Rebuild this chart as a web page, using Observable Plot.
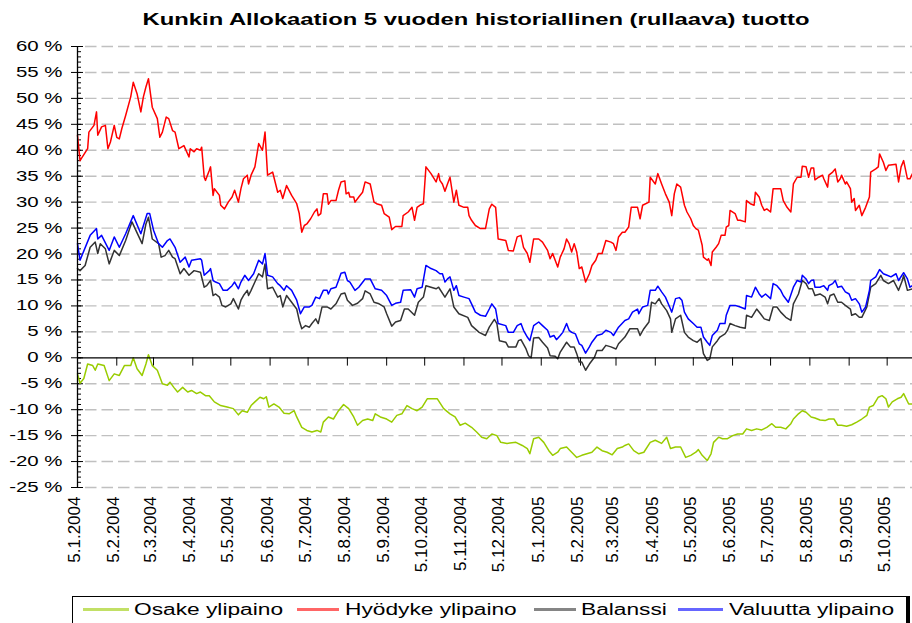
<!DOCTYPE html>
<html>
<head>
<meta charset="utf-8">
<script src="https://cdn.jsdelivr.net/npm/d3@7"></script>
<script src="https://cdn.jsdelivr.net/npm/@observablehq/plot@0.6"></script>
<style>
html,body{margin:0;padding:0;background:#fff;}
#wrap{position:relative;width:912px;height:623px;overflow:hidden;font-family:"Liberation Sans",Arial,sans-serif;color:#000;}
#title{position:absolute;left:475.5px;top:10px;white-space:nowrap;font-weight:bold;font-size:17px;transform:translateX(-50%) scaleX(1.40);}
#chart{position:absolute;left:0;top:32px;}
#legend{position:absolute;left:72px;top:596px;width:838px;height:32px;border:1px solid #000;border-right:4px solid #000;box-sizing:border-box;}
.sw{position:absolute;top:11px;height:3px;opacity:0.6;}
.lt{position:absolute;top:4px;font-size:16px;white-space:nowrap;transform-origin:left center;transform:scaleX(1.42);}
</style>
</head>
<body>
<div id="wrap">
  <div id="title"></div>
  <div id="chart"></div>
  <div id="legend"></div>
</div>
<script>
const titleText = "Kunkin Allokaation 5 vuoden historiallinen (rullaava) tuotto";
const startDate = "2004-01-05";   // day 0 of the day offsets below
const endDate = "2005-10-25";     // end of the axis
const seriesNames = ["Osake ylipaino", "Hyödyke ylipaino", "Balanssi", "Valuutta ylipaino"];
const seriesColors = ["#99cc00", "#ff0000", "#333333", "#0000ff"];

// readings: day offset from startDate, and value in %
const osakeDay = [0,2,5,8,12,14,16,21,25,29,33,37,42,44,47,51,54,56,59,63,67,71,73,76,79,83,87,90,94,97,101,104,108,113,118,123,127,130,134,137,140,144,147,149,151,155,159,163,167,171,173,177,181,185,189,192,194,198,202,206,210,214,218,221,225,229,233,235,239,244,248,252,256,260,264,268,272,276,280,284,289,294,298,302,
  306,311,315,319,323,327,331,334,339,346,351,355,357,360,364,368,372,375,379,381,
  386,390,394,398,402,406,410,414,418,422,426,430,432,435,439,443,447,452,456,461,465,468,472,476,
  480,484,488,490,493,497,500,502,506,509,513,517,521,525,528,532,536,540,544,548,551,555,559,563,565,569,
  572,575,579,582,586,590,593,597,600,603,607,611,615,619,623,625,628,632,635,638,640,643,647,650,652,656,659];
const osakeValue = [-3.1,-4.9,-4.0,-1.2,-1.5,-2.4,-1.2,-1.5,-4.4,-3.1,-3.4,-1.5,-1.5,0.0,-2.1,-3.4,-1.2,0.6,-1.5,-2.4,-5.0,-5.3,-4.7,-5.7,-6.6,-5.7,-6.6,-6.3,-6.9,-6.6,-7.3,-7.3,-8.5,-9.2,-9.5,-9.8,-11.0,-10.2,-10.5,-9.2,-8.5,-7.6,-7.9,-7.5,-9.5,-8.9,-9.5,-10.7,-10.8,-10.2,-11.4,-13.4,-14.0,-14.3,-14.0,-14.3,-12.4,-11.4,-11.8,-10.2,-9.0,-9.8,-11.4,-13.0,-12.1,-11.8,-12.1,-10.8,-11.4,-11.8,-12.4,-11.1,-10.8,-9.2,-9.8,-10.2,-9.5,-7.9,-7.9,-7.9,-9.8,-10.8,-11.4,-13.0,
  -12.6,-13.4,-14.3,-15.3,-15.6,-14.7,-15.0,-16.3,-16.5,-16.3,-16.9,-17.5,-18.5,-15.6,-15.3,-16.3,-17.9,-18.8,-18.2,-17.5,
  -17.2,-18.2,-19.2,-18.8,-18.5,-18.2,-17.2,-17.9,-18.2,-18.7,-17.5,-17.2,-16.9,-16.6,-17.9,-18.5,-18.2,-16.3,-15.9,-16.5,-15.3,-17.5,-17.2,-17.2,
  -19.2,-18.8,-18.2,-17.7,-18.8,-19.8,-18.5,-16.3,-15.3,-15.6,-15.6,-15.0,-14.7,-14.7,-13.7,-14.0,-13.7,-13.9,-13.4,-12.7,-13.4,-13.4,-13.7,-12.7,-11.8,-10.8,
  -10.2,-10.5,-11.4,-11.6,-12.0,-12.1,-11.8,-11.8,-13.0,-13.0,-13.2,-12.9,-12.4,-11.8,-11.1,-9.5,-9.2,-7.6,-7.3,-7.9,-9.5,-8.5,-7.9,-7.6,-6.9,-8.9,-8.9];

const hyodykeDay = [0,2,8,9,13,15,16,19,22,24,26,29,31,33,35,38,42,44,47,50,52,54,56,59,63,65,67,70,72,75,77,80,84,88,89,92,94,97,
  98,100,101,104,105,107,108,112,113,116,119,122,124,127,129,131,134,135,137,140,143,146,148,150,154,158,160,162,165,169,173,175,177,179,181,184,187,189,190,
  192,194,197,198,200,204,206,208,211,212,214,215,218,219,222,225,227,231,234,236,240,242,246,248,251,256,257,261,264,266,268,271,273,275,279,283,285,286,
  288,290,292,294,297,299,301,305,308,309,311,314,318,322,325,327,330,332,338,340,344,347,350,352,355,357,360,364,367,371,373,375,377,379,381,
  384,386,388,390,392,394,396,398,401,404,406,409,411,414,417,421,423,425,427,430,432,435,437,442,444,446,451,452,456,458,461,464,467,469,471,473,476,
  479,481,484,486,488,490,493,494,497,498,500,501,504,506,508,511,512,514,515,519,521,523,527,528,531,534,535,538,540,542,544,547,549,552,555,557,560,563,565,568,571,
  572,575,577,579,581,582,585,588,589,592,593,596,598,600,602,603,606,607,610,611,613,614,617,619,622,625,626,630,632,633,636,638,640,646,648,650,652,655,657,659];
const hyodykeValue = [42.9,38.0,40.3,43.5,44.8,47.4,42.9,44.5,44.8,40.3,41.6,44.8,42.5,42.2,44.2,46.7,50.3,53.1,50.9,47.4,50.3,52.2,53.8,48.3,46.1,42.5,43.5,46.4,46.1,43.8,43.5,40.3,40.9,38.7,40.3,39.7,40.3,40.0,
  40.6,34.8,34.2,36.1,36.8,31.3,32.6,31.3,29.4,28.7,30.0,31.0,32.3,30.0,32.6,34.5,35.2,33.5,35.2,36.8,41.3,40.0,43.5,35.2,35.8,31.9,32.3,30.7,33.2,31.3,29.7,27.8,24.2,25.5,25.8,26.8,28.1,28.7,27.4,
  27.8,31.6,31.6,29.6,30.3,30.3,32.3,33.9,34.1,31.6,31.9,31.0,31.0,30.0,31.0,31.9,33.9,33.5,30.0,29.7,29.4,27.8,27.1,24.7,25.3,25.3,27.4,28.1,29.0,26.5,29.0,29.5,29.7,36.8,35.5,33.9,35.5,34.2,
  33.5,32.1,33.5,34.8,30.0,32.3,29.4,29.0,29.0,27.4,26.5,25.5,24.9,24.9,28.7,29.6,29.0,22.9,22.6,20.7,20.6,23.3,23.6,21.3,20.1,18.4,22.9,22.9,22.3,20.7,19.1,20.1,18.8,17.5,19.4,
  21.0,22.9,22.0,20.4,22.0,20.4,17.2,17.5,14.6,16.2,17.8,18.8,20.1,20.1,22.6,22.3,22.0,20.7,23.3,24.2,24.2,25.2,29.0,29.0,26.8,29.4,30.0,34.8,33.5,35.5,33.5,31.6,30.0,27.4,31.6,33.5,32.9,
  29.4,28.1,26.8,25.5,24.9,24.6,21.7,19.4,18.8,19.1,17.8,20.4,21.3,22.0,23.6,23.6,25.2,25.5,28.4,27.8,26.5,26.5,26.2,30.3,29.7,29.4,31.9,31.0,29.4,28.4,28.7,28.1,32.6,32.6,32.6,30.3,29.0,28.1,33.5,34.8,34.8,
  36.9,36.8,34.8,36.6,36.6,34.3,34.8,35.2,34.5,32.9,35.2,35.8,36.4,33.9,34.5,35.2,33.5,33.9,32.6,30.0,30.7,28.4,29.4,27.4,29.0,31.0,35.8,36.4,36.8,39.3,37.7,36.1,37.1,37.3,33.9,36.8,38.0,34.5,34.5,35.5];

const balanssiDay = [0,2,6,10,14,16,18,22,25,29,33,38,43,46,51,54,56,59,64,66,69,72,75,77,81,84,88,92,97,
  100,102,105,107,109,112,114,117,121,123,127,129,131,134,135,137,140,143,146,148,150,154,158,160,162,165,169,173,175,177,180,183,185,188,
  190,193,197,200,204,208,211,213,217,221,225,227,231,234,238,242,244,248,251,255,258,261,266,269,273,275,279,283,285,
  290,294,297,301,308,311,317,322,325,329,331,333,338,340,346,348,350,354,356,358,360,364,367,371,373,377,379,381,
  386,389,392,394,396,398,401,404,408,410,414,417,421,425,427,432,436,442,444,447,451,453,456,459,461,465,468,469,472,476,
  479,482,486,489,492,494,497,499,501,505,507,511,513,515,519,523,527,528,532,536,539,542,546,549,552,555,559,563,565,569,
  572,575,577,580,582,586,590,592,594,597,600,603,606,610,611,614,617,619,623,626,630,634,636,640,644,648,651,652,655,659];
const balanssiValue = [17.2,16.8,17.8,21.3,22.3,20.1,22.0,21.0,18.1,20.7,19.7,22.6,26.2,24.6,22.0,25.8,27.1,22.9,22.0,19.4,19.7,20.7,19.4,19.1,16.2,17.2,15.9,16.8,16.5,
  13.6,13.9,14.9,12.0,12.3,11.7,10.1,9.8,10.4,11.4,9.4,11.1,12.0,13.0,12.0,13.0,14.6,16.2,15.6,18.1,13.3,13.6,11.7,12.0,9.8,12.0,10.7,9.4,7.2,5.6,6.2,5.9,6.6,7.5,
  6.6,9.8,9.8,9.4,10.4,12.3,12.5,11.1,10.1,10.5,11.4,12.9,12.3,10.7,10.4,9.8,8.5,6.1,6.9,7.2,9.4,9.4,8.2,10.7,11.7,13.9,13.6,13.3,13.6,
  11.7,13.3,9.8,8.5,7.8,6.2,4.9,4.3,5.9,7.4,6.6,3.3,3.0,2.1,2.1,3.3,3.5,1.7,0.4,0.0,3.8,3.9,3.0,1.9,0.4,0.3,-0.2,1.1,
  3.0,2.1,2.1,0.8,-0.8,-0.8,-2.4,-1.2,0.1,1.4,1.4,2.4,2.1,1.7,2.7,4.0,5.6,5.6,4.3,5.6,6.9,10.7,10.4,11.4,10.4,9.1,7.5,4.9,7.5,8.2,
  4.9,4.0,3.3,3.0,3.7,0.8,-0.5,-0.2,2.1,3.3,4.0,4.6,5.3,6.6,6.2,5.9,5.7,8.2,7.8,9.4,8.5,7.5,7.2,9.8,9.8,8.8,7.8,7.2,10.4,12.3,
  14.9,14.3,13.3,13.3,12.0,12.3,11.7,10.4,12.0,12.3,10.7,10.7,10.1,9.4,8.2,8.5,7.8,7.8,9.8,13.6,14.3,15.9,14.9,14.3,14.9,13.0,14.9,15.9,13.0,13.3];

const valuuttaDay = [0,2,10,15,16,19,25,29,33,38,44,50,55,57,60,64,67,71,73,77,81,85,88,90,97,
  98,100,104,105,107,109,112,115,118,122,124,127,129,132,135,139,143,146,148,150,154,158,160,163,165,169,173,176,179,183,185,188,
  191,194,197,198,200,204,206,208,211,213,215,219,222,227,231,235,240,244,248,251,255,257,263,266,268,272,275,279,283,286,
  288,290,292,294,297,299,301,305,309,311,314,318,322,325,327,330,332,338,340,344,347,350,352,355,357,360,364,367,371,373,376,378,381,
  383,386,388,390,393,396,398,401,404,406,410,414,417,421,423,427,432,435,438,442,443,446,450,452,456,458,461,464,468,469,472,475,
  477,479,482,486,489,492,494,497,499,501,505,507,511,512,515,519,523,527,528,532,535,538,540,543,547,549,552,555,557,561,565,568,571,
  572,575,577,579,581,582,586,589,592,593,596,598,600,603,606,609,611,614,617,619,622,625,626,630,633,636,639,642,646,648,652,655,657,659];
const valuuttaValue = [22.0,18.8,23.6,24.9,22.9,23.6,20.7,23.3,21.3,23.9,27.4,23.9,27.8,27.8,24.6,22.0,21.3,22.6,22.9,21.3,18.4,19.4,17.5,18.8,19.1,
  18.8,15.9,16.8,17.2,14.9,14.6,14.3,13.0,13.0,13.9,14.6,13.3,14.6,15.9,14.9,16.2,18.8,18.1,20.1,15.9,15.6,14.3,13.9,13.0,13.9,13.0,11.1,8.5,9.8,9.8,10.1,11.7,
  11.4,13.0,13.0,12.3,13.3,13.6,14.9,16.3,16.5,14.9,14.6,13.0,13.6,15.2,15.2,13.3,13.0,12.0,10.1,10.5,10.7,13.0,13.1,11.7,13.3,13.6,17.8,17.2,16.8,16.2,
  16.2,14.6,15.2,15.6,13.0,13.9,12.0,11.7,11.4,10.4,8.8,8.2,8.0,9.4,10.4,9.4,6.6,6.2,4.9,4.9,6.2,6.6,5.3,4.0,3.3,6.2,6.9,6.2,5.3,4.0,4.3,3.5,4.3,
  4.9,6.6,5.3,4.9,4.6,2.7,2.4,0.9,2.1,3.0,4.3,4.6,5.3,4.9,4.3,5.9,7.2,7.5,8.8,9.4,8.5,9.8,10.1,13.0,13.0,13.8,12.7,11.7,9.4,8.8,11.4,11.6,
  11.1,8.8,7.5,6.6,5.9,5.9,4.0,3.0,2.4,4.3,5.3,6.6,6.6,8.2,10.1,10.1,9.8,9.4,12.0,11.7,13.6,12.3,11.7,12.3,11.4,14.3,13.9,13.0,12.0,10.7,13.6,14.9,14.6,
  15.9,15.2,14.3,14.9,15.0,13.6,13.6,13.9,13.0,13.9,14.3,14.9,13.6,13.8,12.7,12.3,11.1,11.4,10.4,8.8,9.8,13.0,14.9,15.6,17.0,16.2,15.9,15.6,16.2,14.9,16.4,15.2,13.6,13.9];

const yTicks = [-25,-20,-15,-10,-5,0,5,10,15,20,25,30,35,40,45,50,55,60];
const yMinorTicks = d3.range(-25, 61, 1);
const xTickLabels = ["5.1.2004","5.2.2004","5.3.2004","5.4.2004","5.5.2004","5.6.2004","5.7.2004","5.8.2004","5.9.2004","5.10.2004","5.11.2004","5.12.2004","5.1.2005","5.2.2005","5.3.2005","5.4.2005","5.5.2005","5.6.2005","5.7.2005","5.8.2005","5.9.2005","5.10.2005"];

// ---- build tables ----
const parseIso = d3.utcParse("%Y-%m-%d");
const start = parseIso(startDate);
const end = parseIso(endDate);
const seriesData = [[osakeDay, osakeValue], [hyodykeDay, hyodykeValue], [balanssiDay, balanssiValue], [valuuttaDay, valuuttaValue]];
const rows = seriesData.flatMap(([days, vals], s) =>
  vals.map((v, i) => ({date: d3.utcDay.offset(start, days[i]), value: v, series: seriesNames[s]}))
);
const xTicks = xTickLabels.map(s => {
  const [d, m, y] = s.split(".").map(Number);
  return {date: new Date(Date.UTC(y, m - 1, d)), label: s};
});

document.getElementById("title").textContent = titleText;

const W = 912, H = 560, ML = 77, MR = 0, MT = 14, MB = 105;
const PW = W - ML - MR;

const plot = Plot.plot({
  width: W, height: H,
  marginLeft: ML, marginRight: MR, marginTop: MT, marginBottom: MB,
  style: {fontFamily: "'Liberation Sans', Arial, sans-serif", fontSize: "14px", color: "#000", background: "transparent"},
  x: {type: "utc", domain: [start, end], axis: null},
  y: {domain: [-25, 60], axis: null},
  color: {domain: seriesNames, range: seriesColors},
  marks: [
    Plot.ruleY(yTicks.filter(d => d !== 0), {y: d => d, stroke: "#c0c0c0", strokeWidth: 1.4, strokeDasharray: "11.5,5", insetLeft: 8}),
    Plot.tickY(yMinorTicks, {y: d => d, stroke: "#000", strokeWidth: 1, insetLeft: 0, insetRight: PW - 4}),
    Plot.tickY(yTicks, {y: d => d, stroke: "#000", strokeWidth: 1, insetLeft: -6, insetRight: PW - 6}),
    Plot.ruleX(xTicks, {x: "date", y1: 0, y2: -1.6, stroke: "#000", strokeWidth: 1}),
    Plot.line(rows, {x: "date", y: "value", z: "series", stroke: "series", strokeWidth: 1.5}),
    Plot.ruleY([0], {stroke: "#000", strokeWidth: 1.3}),
    Plot.ruleX([start], {stroke: "#000", strokeWidth: 1.3}),
    Plot.axisY(yTicks, {tickSize: 0, tickPadding: 15, tickFormat: d => `${d} %`, fontSize: 14, label: null}),
    Plot.text(xTicks, {x: "date", y: -25, text: "label", rotate: -90, textAnchor: "end", dy: 9, dx: -3, fontSize: 17, ariaLabel: "x-labels"})
  ]
});

d3.select(plot).selectAll('g[aria-label="y-axis tick label"] text')
  .attr("transform", function () { return this.getAttribute("transform") + " scale(1.46,1)"; });

document.getElementById("chart").appendChild(plot);

// legend
const legendLayout = [
  {sw: 10, w: 46, tx: 61},
  {sw: 224, w: 42, tx: 272},
  {sw: 461, w: 42, tx: 508},
  {sw: 605, w: 45, tx: 656}
];
const legend = document.getElementById("legend");
seriesNames.forEach((name, i) => {
  const sw = document.createElement("div");
  sw.className = "sw";
  sw.style.left = legendLayout[i].sw + "px";
  sw.style.width = legendLayout[i].w + "px";
  sw.style.background = seriesColors[i];
  legend.appendChild(sw);
  const t = document.createElement("div");
  t.className = "lt";
  t.style.left = legendLayout[i].tx + "px";
  t.textContent = name;
  legend.appendChild(t);
});
</script>
</body>
</html>
